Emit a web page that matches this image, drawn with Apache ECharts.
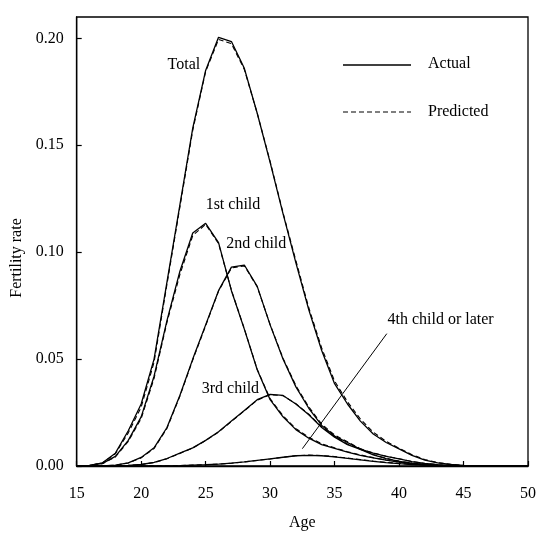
<!DOCTYPE html>
<html>
<head>
<meta charset="utf-8">
<script src="https://cdn.jsdelivr.net/npm/echarts@6/dist/echarts.min.js"></script>
<style>
html,body{margin:0;padding:0;background:#fff;}
#chart{width:539px;height:536px;}
</style>
</head>
<body>
<div id="chart"></div>
<script>
// Ages (x categories as numeric values)
var ages = [15,16,17,18,19,20,21,22,23,24,25,26,27,28,29,30,31,32,33,34,35,36,37,38,39,40,41,42,43,44,45,46,47,48,49,50];

// Actual fertility rates
var totalActual = [0,0.0003,0.0015,0.0060,0.0165,0.0290,0.0500,0.0860,0.1220,0.1580,0.1850,0.2005,0.1985,0.1860,0.1650,0.1420,0.1180,0.0950,0.0730,0.0540,0.0385,0.0290,0.0210,0.0150,0.0110,0.0080,0.0050,0.0027,0.0015,0.0007,0.0003,0.0001,0,0,0,0];
var firstActual = [0,0.0003,0.0012,0.0045,0.0120,0.0230,0.0420,0.0680,0.0910,0.1090,0.1135,0.1045,0.0820,0.0640,0.0450,0.0310,0.0230,0.0170,0.0130,0.0100,0.0082,0.0065,0.0050,0.0038,0.0027,0.0018,0.0010,0.0005,0.0002,0.0001,0,0,0,0,0,0];
var secondActual = [0,0,0.0001,0.0004,0.0015,0.0040,0.0085,0.0180,0.0330,0.0500,0.0660,0.0820,0.0930,0.0940,0.0840,0.0660,0.0500,0.0370,0.0270,0.0190,0.0140,0.0110,0.0078,0.0052,0.0034,0.0022,0.0013,0.0007,0.0003,0.0001,0,0,0,0,0,0];
var thirdActual = [0,0,0,0.0001,0.0003,0.0007,0.0017,0.0035,0.0060,0.0085,0.0120,0.0160,0.0210,0.0260,0.0310,0.0335,0.0330,0.0290,0.0240,0.0180,0.0135,0.0100,0.0078,0.0060,0.0045,0.0033,0.0020,0.0012,0.0006,0.0003,0.0001,0,0,0,0,0];
var fourthActual = [0,0,0,0,0,0,0.0001,0.0001,0.0002,0.0004,0.0006,0.0009,0.0013,0.0019,0.0026,0.0033,0.0041,0.0048,0.0050,0.0048,0.0043,0.0036,0.0029,0.0022,0.0016,0.0011,0.0007,0.0004,0.0002,0.0001,0,0,0,0,0,0];

// Predicted fertility rates
var totalPredicted = [0,0.0003,0.0014,0.0057,0.0155,0.0275,0.0485,0.0850,0.1210,0.1570,0.1845,0.1995,0.1975,0.1855,0.1650,0.1425,0.1185,0.0960,0.0740,0.0552,0.0397,0.0300,0.0220,0.0158,0.0115,0.0083,0.0053,0.0030,0.0016,0.0008,0.0003,0.0001,0,0,0,0];
var firstPredicted = [0,0.0003,0.0011,0.0042,0.0115,0.0222,0.0410,0.0672,0.0895,0.1078,0.1130,0.1040,0.0822,0.0642,0.0452,0.0315,0.0235,0.0175,0.0134,0.0104,0.0085,0.0067,0.0052,0.0039,0.0028,0.0019,0.0011,0.0005,0.0002,0.0001,0,0,0,0,0,0];
var secondPredicted = [0,0,0.0001,0.0004,0.0014,0.0038,0.0082,0.0176,0.0326,0.0496,0.0656,0.0818,0.0926,0.0936,0.0838,0.0662,0.0504,0.0376,0.0276,0.0196,0.0145,0.0113,0.0081,0.0054,0.0036,0.0023,0.0014,0.0008,0.0003,0.0001,0,0,0,0,0,0];
var thirdPredicted = [0,0,0,0.0001,0.0003,0.0007,0.0016,0.0034,0.0059,0.0084,0.0119,0.0159,0.0208,0.0258,0.0308,0.0333,0.0329,0.0291,0.0242,0.0183,0.0138,0.0103,0.0080,0.0061,0.0046,0.0034,0.0021,0.0012,0.0006,0.0003,0.0001,0,0,0,0,0];
var fourthPredicted = [0,0,0,0,0,0,0.0001,0.0001,0.0002,0.0004,0.0006,0.0009,0.0013,0.0019,0.0026,0.0033,0.0041,0.0048,0.0051,0.0049,0.0044,0.0037,0.0030,0.0023,0.0017,0.0012,0.0008,0.0004,0.0002,0.0001,0,0,0,0,0,0];

// Tick settings
var xTicks = {min: 15, max: 50, interval: 5};
var yTicks = {min: 0, max: 0.21, interval: 0.05};

// Curve labels (data coordinates: age, rate)
var curveLabels = [
  {text: 'Total', at: [22.05, 0.1876]},
  {text: '1st child', at: [25.0, 0.1222]},
  {text: '2nd child', at: [26.6, 0.1038]},
  {text: '3rd child', at: [24.7, 0.0362]},
  {text: '4th child or later', at: [39.1, 0.0684]}
];
var pointerLine = [[39.05, 0.0619], [32.5, 0.0081]];

function pairs(vals){ return ages.map(function(a,i){ return [a, vals[i]]; }); }

var FONT = '"Liberation Serif", "Times New Roman", serif';
var chart = echarts.init(document.getElementById('chart'), null, {renderer:'canvas'});

function lineSeries(name, vals, dashed){
  return {
    name: name, type: 'line', data: pairs(vals), showSymbol: false, symbol: 'none',
    smooth: false, silent: true, animation: false,
    lineStyle: {color: '#000', width: dashed ? 1.1 : 1.3, type: dashed ? [5,3] : 'solid'},
    z: dashed ? 2 : 3
  };
}

var option = {
  backgroundColor: '#fff',
  animation: false,
  grid: {left: 76.7, right: 7.3, top: 17, bottom: 61.3, show: true, borderColor: '#000', borderWidth: 1.3},
  xAxis: {
    type: 'value', min: xTicks.min, max: xTicks.max, interval: xTicks.interval,
    name: 'Age', nameLocation: 'middle', nameGap: 49,
    nameTextStyle: {fontFamily: FONT, fontSize: 16, color: '#000'},
    axisLine: {show: true, onZero: false, lineStyle: {color: '#000', width: 1.3}},
    axisTick: {show: true, inside: true, length: 5, lineStyle: {color: '#000', width: 1.2}},
    axisLabel: {fontFamily: FONT, fontSize: 16, color: '#000', margin: 20},
    splitLine: {show: false}
  },
  yAxis: {
    type: 'value', min: yTicks.min, max: yTicks.max, interval: yTicks.interval,
    axisLine: {show: true, lineStyle: {color: '#000', width: 1.3}},
    axisTick: {show: true, inside: true, length: 5, lineStyle: {color: '#000', width: 1.2}},
    axisLabel: {fontFamily: FONT, fontSize: 16, color: '#000', margin: 13, showMaxLabel: false,
      formatter: function(v){ var r = Math.round(v*100)/100; return Math.abs(r/0.05 - Math.round(r/0.05))<1e-6 && Math.abs(v - r) < 1e-9 ? v.toFixed(2) : ''; }},
    splitLine: {show: false}
  },
  series: [
    lineSeries('Predicted', totalPredicted, true),
    lineSeries('Predicted', firstPredicted, true),
    lineSeries('Predicted', secondPredicted, true),
    lineSeries('Predicted', thirdPredicted, true),
    lineSeries('Predicted', fourthPredicted, true),
    lineSeries('Actual', totalActual, false),
    lineSeries('Actual', firstActual, false),
    lineSeries('Actual', secondActual, false),
    lineSeries('Actual', thirdActual, false),
    lineSeries('Actual', fourthActual, false)
  ]
};
chart.setOption(option);

// Annotations placed via the chart's own coordinate conversion
var g = [];
curveLabels.forEach(function(l){
  var p = chart.convertToPixel({gridIndex: 0}, l.at);
  g.push({type: 'text', x: p[0], y: p[1], silent: true, z: 10,
    style: {text: l.text, fill: '#000', font: '16px ' + FONT, textAlign: 'left', textVerticalAlign: 'middle', verticalAlign: 'middle'}});
});
var p1 = chart.convertToPixel({gridIndex: 0}, pointerLine[0]);
var p2 = chart.convertToPixel({gridIndex: 0}, pointerLine[1]);
g.push({type: 'line', silent: true, z: 10, shape: {x1: p1[0], y1: p1[1], x2: p2[0], y2: p2[1]}, style: {stroke: '#000', lineWidth: 1}});

// Y axis title
g.push({type: 'text', silent: true, z: 10, x: 17, y: 258, rotation: Math.PI/2,
  style: {text: 'Fertility rate', fill: '#000', font: '16px ' + FONT, textAlign: 'center', align: 'center', textVerticalAlign: 'middle', verticalAlign: 'middle'}});

// Legend (drawn as graphic so it sits inside the plot like the original)
g.push({type: 'line', silent: true, z: 10, shape: {x1: 343, y1: 65, x2: 411, y2: 65}, style: {stroke: '#000', lineWidth: 1.3}});
g.push({type: 'text', silent: true, z: 10, x: 428, y: 64, style: {text: 'Actual', fill: '#000', font: '16px ' + FONT, textVerticalAlign: 'middle', verticalAlign: 'middle'}});
g.push({type: 'line', silent: true, z: 10, shape: {x1: 343, y1: 112, x2: 411, y2: 112}, style: {stroke: '#000', lineWidth: 1.1, lineDash: [5,3]}});
g.push({type: 'text', silent: true, z: 10, x: 428, y: 112, style: {text: 'Predicted', fill: '#000', font: '16px ' + FONT, textVerticalAlign: 'middle', verticalAlign: 'middle'}});

chart.setOption({graphic: g});
</script>
</body>
</html>
